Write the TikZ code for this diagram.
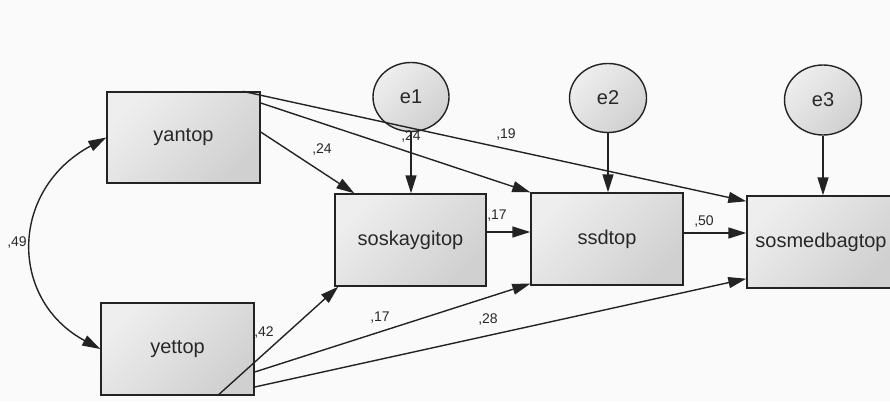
\documentclass[tikz,border=0pt]{standalone}
\usepackage{fontspec}
\setmainfont{Liberation Sans}
\usetikzlibrary{arrows.meta,shapes.geometric,calc}
\definecolor{bg}{RGB}{250,250,250}
\definecolor{ink}{RGB}{35,35,35}
\definecolor{txt}{RGB}{40,40,40}
\definecolor{fillA}{RGB}{238,238,238}
\definecolor{fillB}{RGB}{208,208,208}
\begin{document}
\begin{tikzpicture}[x=1pt,y=-1pt,
  box/.style={draw=ink, line width=1.4pt, rectangle, top color=fillA, bottom color=fillB, shading angle=45, inner sep=0pt, font=\fontsize{20}{22}\selectfont, text=txt},
  err/.style={draw=ink, line width=1.4pt, ellipse, top color=fillA, bottom color=fillB, shading angle=45, inner sep=0pt, font=\fontsize{20}{22}\selectfont, text=txt},
  arr/.style={draw=ink, line width=1.4pt, -{Triangle[length=18pt,width=11pt]}},
  darr/.style={draw=ink, line width=1.4pt, {Triangle[length=18pt,width=11pt]}-{Triangle[length=18pt,width=11pt]}},
  lab/.style={font=\fontsize{14}{16}\selectfont, text=txt, inner sep=0pt}]
\useasboundingbox[fill=bg] (0,0) rectangle (890,401);

% nodes
\node[box, minimum width=153pt, minimum height=91pt] (yantop) at (183.5,137.5) {yantop};
\node[box, minimum width=153pt, minimum height=92pt] (yettop) at (177.5,349) {yettop};
\node[box, minimum width=151pt, minimum height=92pt] (sosk) at (410.5,240) {soskaygitop};
\node[box, minimum width=152pt, minimum height=92pt] (ssd) at (607,239) {ssdtop};
\node[box, minimum width=148pt, minimum height=92pt] (sosm) at (821,242) {sosmedbagtop};
\node[err, minimum width=76pt, minimum height=69pt] (e1) at (411,97) {e1};
\node[err, minimum width=77pt, minimum height=69pt] (e2) at (608,98) {e2};
\node[err, minimum width=77pt, minimum height=70pt] (e3) at (823,100) {e3};

% covariance
\draw[darr] (yantop.west) .. controls (9,190) and (9,300) .. (yettop.west);

% error arrows
\draw[arr] (e1.south) -- (e1.south |- sosk.north);
\draw[arr] (e2.south) -- (e2.south |- ssd.north);
\draw[arr] (e3.south) -- (e3.south |- sosm.north);

% paths from yantop
\draw[arr] ([yshift=5.5pt]yantop.east) -- ([xshift=20pt]sosk.north west);
\draw[arr] ([yshift=34.5pt]yantop.east) -- (ssd.north west);
\draw[arr] ([xshift=-18pt]yantop.north east) -- ([yshift=-6pt]sosm.north west);

% chain
\draw[arr] ([yshift=8pt]sosk.east) -- ([yshift=8pt]sosk.east -| ssd.west);
\draw[arr] ([yshift=6pt]ssd.east) -- ([yshift=6pt]ssd.east -| sosm.west);

% paths from yettop
\draw[arr] ([xshift=40pt]yettop.south) -- ([xshift=4pt]sosk.south west);
\draw[arr] ([yshift=-23pt]yettop.east) -- ([yshift=2pt]ssd.south west);
\draw[arr] ([yshift=-38pt]yettop.east) -- ([yshift=10pt]sosm.south west);

% labels
\node[lab] (l49) at (17,243) {,49};
\node[lab] (l24a) at (322,150) {,24};
\node[lab] (l24b) at (411,137) {,24};
\node[lab] (l19) at (506,135) {,19};
\node[lab] (l17a) at (497,216) {,17};
\node[lab] (l50) at (704,222) {,50};
\node[lab] (l42) at (264,333) {,42};
\node[lab] (l17b) at (380,318) {,17};
\node[lab] (l28) at (488,320) {,28};
\end{tikzpicture}
\end{document}
